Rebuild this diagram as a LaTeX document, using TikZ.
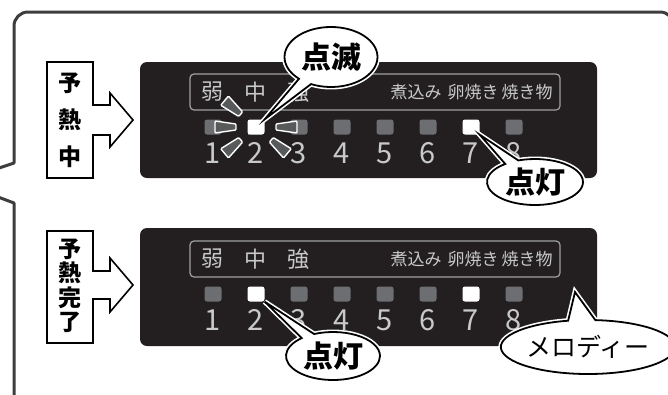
\documentclass[tikz,border=0pt]{standalone}
\usepackage{fontspec}
\setmainfont{Noto Sans CJK JP}
\usepackage{xcolor}
\usetikzlibrary{positioning, calc, shapes.callouts}

\definecolor{panelblack}{HTML}{231F20}
\definecolor{ledoff}{HTML}{6D6E71}
\definecolor{rayfill}{HTML}{58595B}
\definecolor{legend}{HTML}{C8C9CA}
\definecolor{framegray}{HTML}{3D3D3D}

\tikzset{
  frame/.style={draw=framegray, line width=3pt, line join=round},
  panel/.style={fill=panelblack, rounded corners=7pt},
  legendbox/.style={draw=legend!80!black, line width=1.2pt, rounded corners=4pt},
  tag/.style={draw=black, fill=white, line width=1.6pt},
  tagtext/.style={font=\bfseries\fontsize{23}{37}\selectfont, align=center, inner sep=0pt},
  bigkey/.style={text=legend, font=\fontsize{22}{24}\selectfont, inner sep=0pt},
  smallkey/.style={text=legend, font=\fontsize{17}{19}\selectfont, inner sep=0pt},
  digit/.style={text=legend, font=\fontsize{29}{30}\selectfont, inner sep=0pt},
  led/.style={fill=ledoff, rounded corners=2.5pt, minimum width=17pt, minimum height=15pt, inner sep=0pt},
  ledon/.style={led, fill=white},
  ray/.style={fill=rayfill, draw=white, line width=1.4pt, rounded corners=1pt},
  bubble/.style={ellipse callout, draw=black, fill=white, line width=1.8pt,
    preaction={draw=white, line width=5pt}, inner sep=0pt, callout pointer arc=18},
}

\begin{document}
\begin{tikzpicture}[x=1pt, y=-1pt]

    \useasboundingbox (0,0) rectangle (668,394);
    \clip (0,0) rectangle (668,394);

    % --- OUTER FRAME ---
    % upper part with the pointer to the left
    \draw[frame] (-10,171) -- (14,163) -- (14,100) [rounded corners=14pt] -- (14,12) -- (674,12) -- (674,420);
    % lower part
    \draw[frame] (-10,194) -- (14,203) -- (14,420);

    % --- UPPER PANEL (PREHEATING) ---
    \fill[panel] (140,62) rectangle (597,178);
    \draw[legendbox] (190,74) rectangle (560,110);

    % tag with arrow
    \draw[tag] (47,62) -- (93,62) -- (93,105) -- (110,105) -- (110,93) -- (133,120)
               -- (110,147) -- (110,135) -- (93,135) -- (93,178) -- (47,178) -- cycle;
    \node[tagtext] (tagA) at (70,120) {予\\熱\\中};

    % legend texts
    \node[bigkey] (weakA) at (212,92) {弱};
    \node[bigkey] (midA) at (255,92) {中};
    \node[bigkey] (strongA) at (298,92) {強};
    \node[smallkey] (simmerA) at (416,92) {煮込み};
    \node[smallkey] (eggA) at (473,92) {卵焼き};
    \node[smallkey] (grillA) at (527,92) {焼き物};

    % lamps
    \node[led] (a1) at (213,127) {};   \node[ledon] (a2) at (256,127) {};
    \node[led] (a3) at (299,127) {};   \node[led] (a4) at (342,127) {};
    \node[led] (a5) at (385,127) {};   \node[led] (a6) at (428,127) {};
    \node[ledon] (a7) at (471,127) {}; \node[led] (a8) at (514,127) {};

    % numbers
    \node[digit] (na1) at (213,153) {1}; \node[digit] (na2) at (256,153) {2};
    \node[digit] (na3) at (299,153) {3}; \node[digit] (na4) at (342,153) {4};
    \node[digit] (na5) at (385,153) {5}; \node[digit] (na6) at (428,153) {6};
    \node[digit] (na7) at (471,153) {7}; \node[digit] (na8) at (514,153) {8};

    % blinking rays round lamp 2
    \foreach \ang in {0,140,180,220,320}
      \draw[ray, shift={(a2)}, rotate=\ang] (20,-3) -- (41,-6) -- (41,6) -- (20,3) -- cycle;

    % --- LOWER PANEL (PREHEATING DONE) ---
    \fill[panel] (140,228) rectangle (597,346);
    \draw[legendbox] (190,241) rectangle (560,277);

    % tag with arrow
    \draw[tag] (47,231) -- (93,231) -- (93,271) -- (110,271) -- (110,258) -- (133,285)
               -- (110,312) -- (110,299) -- (93,299) -- (93,343) -- (47,343) -- cycle;
    \node[tagtext, font=\bfseries\fontsize{23}{24.5}\selectfont] (tagB) at (70,286) {予\\熱\\完\\了};

    % legend texts
    \node[bigkey] (weakB) at (212,259) {弱};
    \node[bigkey] (midB) at (255,259) {中};
    \node[bigkey] (strongB) at (298,259) {強};
    \node[smallkey] (simmerB) at (416,259) {煮込み};
    \node[smallkey] (eggB) at (473,259) {卵焼き};
    \node[smallkey] (grillB) at (527,259) {焼き物};

    % lamps
    \node[led] (b1) at (213,294) {};   \node[ledon] (b2) at (256,294) {};
    \node[led] (b3) at (299,294) {};   \node[led] (b4) at (342,294) {};
    \node[led] (b5) at (385,294) {};   \node[led] (b6) at (428,294) {};
    \node[ledon] (b7) at (471,294) {}; \node[led] (b8) at (514,294) {};

    % numbers
    \node[digit] (nb1) at (213,320) {1}; \node[digit] (nb2) at (256,320) {2};
    \node[digit] (nb3) at (299,320) {3}; \node[digit] (nb4) at (342,320) {4};
    \node[digit] (nb5) at (385,320) {5}; \node[digit] (nb6) at (428,320) {6};
    \node[digit] (nb7) at (471,320) {7}; \node[digit] (nb8) at (514,320) {8};

    % --- CALLOUTS ---
    \coordinate (chime) at (575,292);
    \node[bubble, minimum width=93pt, minimum height=60pt, callout absolute pointer={(a2.north east)},
          font=\bfseries\fontsize{30}{31}\selectfont] (blink) at (331,57) {点滅};
    \node[bubble, minimum width=96pt, minimum height=46pt, callout absolute pointer={(a7.south east)},
          font=\bfseries\fontsize{30}{31}\selectfont] (litA) at (535,182) {点灯};
    \node[bubble, minimum width=94pt, minimum height=48pt, callout absolute pointer={(b2.south east)},
          font=\bfseries\fontsize{30}{31}\selectfont] (litB) at (333,356) {点灯};
    \node[bubble, minimum width=128pt, minimum height=54pt, callout absolute pointer={(chime)},
          font=\fontsize{25}{27}\selectfont] (melody) at (588,347) {メロディー};

\end{tikzpicture}
\end{document}
